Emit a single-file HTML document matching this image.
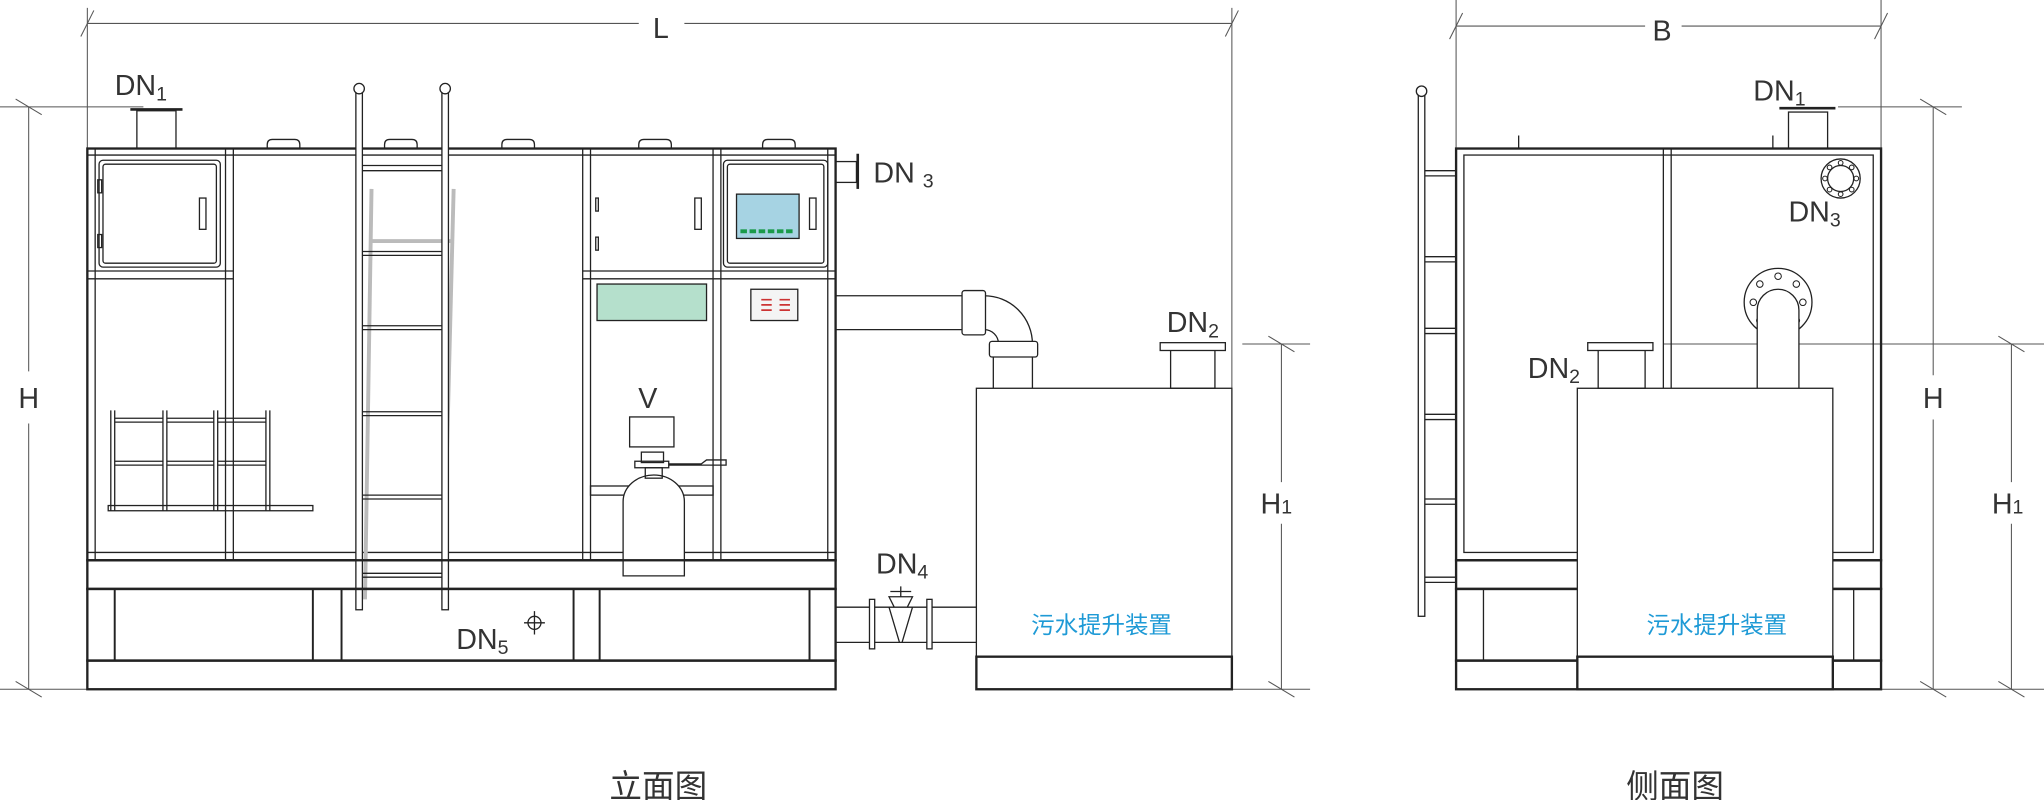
<!DOCTYPE html>
<html><head><meta charset="utf-8"><style>
html,body{margin:0;padding:0;background:#fff;}
svg{display:block;}
text{font-family:"Liberation Sans","Noto Sans CJK SC",sans-serif;fill:#333;}
</style></head><body>
<svg width="2044" height="800" viewBox="0 0 1568 614" preserveAspectRatio="none" xmlns="http://www.w3.org/2000/svg">
<g fill="none" stroke="#222" stroke-width="1">
<g stroke="#555" stroke-width="0.8">
<line x1="67" y1="18" x2="490" y2="18"/><line x1="525" y1="18" x2="945" y2="18"/>
<line x1="67" y1="6" x2="67" y2="114"/><line x1="945" y1="6" x2="945" y2="300"/>
<line x1="62" y1="28" x2="72" y2="8"/><line x1="940" y1="28" x2="950" y2="8"/>
<line x1="0" y1="82" x2="110" y2="82"/><line x1="0" y1="529" x2="67" y2="529"/>
<line x1="22" y1="82" x2="22" y2="285"/><line x1="22" y1="325" x2="22" y2="529"/>
<line x1="12" y1="76" x2="32" y2="88"/><line x1="12" y1="523" x2="32" y2="535"/>
<line x1="953" y1="264" x2="1005" y2="264"/><line x1="945" y1="529" x2="1005" y2="529"/>
<line x1="983" y1="264" x2="983" y2="370"/><line x1="983" y1="402" x2="983" y2="529"/>
<line x1="973" y1="258" x2="993" y2="270"/><line x1="973" y1="523" x2="993" y2="535"/>
<line x1="1117" y1="20" x2="1262" y2="20"/><line x1="1290" y1="20" x2="1443" y2="20"/>
<line x1="1117" y1="0" x2="1117" y2="114"/><line x1="1443" y1="0" x2="1443" y2="114"/>
<line x1="1112" y1="30" x2="1122" y2="10"/><line x1="1438" y1="30" x2="1448" y2="10"/>
<line x1="1410" y1="82" x2="1505" y2="82"/><line x1="1443" y1="529" x2="1568" y2="529"/>
<line x1="1483" y1="82" x2="1483" y2="288"/><line x1="1483" y1="322" x2="1483" y2="529"/>
<line x1="1473" y1="76" x2="1493" y2="88"/><line x1="1473" y1="523" x2="1493" y2="535"/>
<line x1="1276" y1="264" x2="1568" y2="264"/>
<line x1="1543" y1="264" x2="1543" y2="370"/><line x1="1543" y1="402" x2="1543" y2="529"/>
<line x1="1533" y1="258" x2="1553" y2="270"/><line x1="1533" y1="523" x2="1553" y2="535"/>
</g>
<rect x="105" y="85" width="30" height="29"/><line x1="100" y1="84" x2="140" y2="84" stroke-width="2"/>
<path d="M205 114v-3q0-4 4-4h17q4 0 4 4v3M295 114v-3q0-4 4-4h17q4 0 4 4v3M385 114v-3q0-4 4-4h17q4 0 4 4v3M490 114v-3q0-4 4-4h17q4 0 4 4v3M585 114v-3q0-4 4-4h17q4 0 4 4v3"/>
<rect x="67" y="114" width="574" height="316" stroke-width="1.8"/>
<line x1="67" y1="119" x2="641" y2="119"/>
<line x1="73" y1="114" x2="73" y2="430"/><line x1="635" y1="114" x2="635" y2="430"/>
<line x1="173" y1="114" x2="173" y2="430"/><line x1="179" y1="114" x2="179" y2="430"/>
<line x1="447" y1="114" x2="447" y2="430"/><line x1="453" y1="114" x2="453" y2="430"/>
<line x1="547" y1="114" x2="547" y2="430"/><line x1="553" y1="114" x2="553" y2="430"/>
<path d="M67 208H179M67 214H179M447 208H641M447 214H641M67 424H641"/>
<rect x="76" y="123" width="93" height="82" rx="3"/><rect x="79" y="126" width="87" height="76" rx="2"/>
<rect x="75" y="138" width="3" height="10"/><rect x="75" y="180" width="3" height="10"/>
<rect x="153" y="152" width="5" height="24"/>
<rect x="457" y="152" width="2" height="10"/><rect x="457" y="182" width="2" height="10"/>
<rect x="533" y="152" width="5" height="24"/>
<rect x="555" y="123" width="80" height="82" rx="3"/><rect x="558" y="126" width="74" height="76" rx="2"/>
<rect x="621" y="152" width="5" height="24"/>
<rect x="565" y="149" width="48" height="34" fill="#a6d3e3"/>
<g fill="#1a9a4a" stroke="none"><rect x="568" y="176" width="5" height="3"/><rect x="575" y="176" width="5" height="3"/><rect x="582" y="176" width="5" height="3"/><rect x="589" y="176" width="5" height="3"/><rect x="596" y="176" width="5" height="3"/><rect x="603" y="176" width="5" height="3"/></g>
<rect x="458" y="218" width="84" height="28" fill="#b5e0cc"/>
<rect x="576" y="222" width="36" height="24" fill="#f4f4f4"/>
<g stroke="#c33" stroke-width="1.3"><path d="M584 230h8M584 234h8M584 238h8M598 230h8M598 234h8M598 238h8"/></g>
<g stroke="#bbb" stroke-width="3"><line x1="285" y1="145" x2="280" y2="460"/><line x1="348" y1="145" x2="340" y2="460"/><line x1="285" y1="185" x2="348" y2="185"/></g>
<rect x="273" y="68" width="5" height="400" fill="#fff"/><rect x="339" y="68" width="5" height="400" fill="#fff"/>
<circle cx="275.5" cy="68" r="4" fill="#fff"/><circle cx="341.5" cy="68" r="4" fill="#fff"/>
<path d="M278 127h61M278 131h61M278 193h61M278 196h61M278 250h61M278 253h61M278 316h61M278 319h61M278 380h61M278 383h61M278 440h61M278 443h61"/>
<path d="M85 315v77M88 315v77M125 315v77M128 315v77M164 315v77M167 315v77M204 315v77M207 315v77"/>
<path d="M88 321h37M88 324h37M128 321h36M128 324h36M167 321h37M167 324h37M88 354h37M88 357h37M128 354h36M128 357h36M167 354h37M167 357h37"/>
<rect x="83" y="388" width="157" height="4"/>
<rect x="483" y="320" width="34" height="23"/>
<rect x="492" y="347" width="17" height="8"/>
<rect x="487" y="354" width="26" height="5"/><path d="M513 356h25l4-3h15v4h-44"/>
<rect x="453" y="373" width="94" height="7"/>
<path d="M478 442V385a23 20 0 0 1 47 0V442Z" fill="#fff"/>
<rect x="495" y="359" width="13" height="8"/>
<rect x="67" y="430" width="574" height="22" stroke-width="1.8"/>
<rect x="67" y="452" width="574" height="55" stroke-width="1.8"/>
<rect x="67" y="507" width="574" height="22" stroke-width="1.8"/>
<path d="M88 452v55M240 452v55M262 452v55M440 452v55M460 452v55M621 452v55" stroke-width="1.5"/>
<circle cx="410" cy="478" r="5"/><path d="M402 478h16M410 469v18"/>
<rect x="641" y="124" width="16" height="16"/><line x1="658" y1="118" x2="658" y2="145" stroke-width="2"/>
<path d="M641 227H740M641 253H740"/>
<path d="M740 227H755A37 37 0 0 1 792 264M740 253H755A11 11 0 0 1 766 264"/>
<rect x="738" y="223" width="18" height="34" rx="2" fill="#fff"/>
<rect x="759" y="262" width="37" height="12" rx="2" fill="#fff"/>
<path d="M762 274V298M792 274V298"/>
<path d="M641 466h26M641 493h26M715 466h34M715 493h34"/>
<rect x="667" y="460" width="4" height="38" fill="#fff"/><rect x="711" y="460" width="4" height="38" fill="#fff"/>
<path d="M671 466h40M671 493h40M682 466l8 27h2l8-27" />
<path d="M686 466l-4-8h18l-4 8M691 458v-8M683 454h16"/>
<rect x="749" y="298" width="196" height="206" fill="#fff"/>
<rect x="749" y="504" width="196" height="25" stroke-width="1.8"/>
<rect x="898" y="268" width="34" height="30"/><rect x="890" y="263" width="50" height="6" fill="#fff"/>
<rect x="1088" y="70" width="5" height="403" fill="#fff"/><circle cx="1090.5" cy="70" r="4" fill="#fff"/>
<path d="M1093 131h24M1093 135h24M1093 197h24M1093 201h24M1093 252h24M1093 256h24M1093 318h24M1093 322h24M1093 383h24M1093 387h24M1093 443h24M1093 447h24"/>
<rect x="1117" y="114" width="326" height="316" stroke-width="1.8"/>
<rect x="1123" y="119" width="314" height="305"/>
<path d="M1276 114v316M1282 114v316"/>
<path d="M1165 114v-10M1360 114v-10"/>
<rect x="1372" y="86" width="30" height="28"/><line x1="1365" y1="83" x2="1408" y2="83" stroke-width="2"/>
<circle cx="1412" cy="137" r="15"/><circle cx="1412" cy="137" r="10"/>
<g stroke-width="0.8"><circle cx="1412" cy="125" r="1.8"/><circle cx="1412" cy="149" r="1.8"/><circle cx="1400" cy="137" r="1.8"/><circle cx="1424" cy="137" r="1.8"/><circle cx="1403.5" cy="128.5" r="1.8"/><circle cx="1420.5" cy="128.5" r="1.8"/><circle cx="1403.5" cy="145.5" r="1.8"/><circle cx="1420.5" cy="145.5" r="1.8"/></g>
<circle cx="1364" cy="232" r="26"/>
<g stroke-width="0.8"><circle cx="1364" cy="212" r="2.5"/><circle cx="1350" cy="218" r="2.5"/><circle cx="1378" cy="218" r="2.5"/><circle cx="1345" cy="232" r="2.5"/><circle cx="1383" cy="232" r="2.5"/><circle cx="1350" cy="246" r="2.5"/><circle cx="1378" cy="246" r="2.5"/></g>
<path d="M1348 298V238A16 16 0 0 1 1380 238V298" fill="#fff"/>
<rect x="1117" y="430" width="326" height="22" stroke-width="1.8"/>
<rect x="1117" y="452" width="326" height="55" stroke-width="1.8"/>
<rect x="1117" y="507" width="326" height="22" stroke-width="1.8"/>
<path d="M1138 452v55M1422 452v55"/>
<rect x="1210" y="298" width="196" height="206" fill="#fff"/>
<rect x="1210" y="504" width="196" height="25" stroke-width="1.8" fill="#fff"/>
<rect x="1226" y="268" width="36" height="30"/><rect x="1218" y="263" width="50" height="6" fill="#fff"/>
</g>
<g font-size="22">
<text x="507" y="29" text-anchor="middle">L</text>
<text x="22" y="313" text-anchor="middle">H</text>
<text x="88" y="73">DN<tspan font-size="15" dy="4">1</tspan></text>
<text x="670" y="140">DN <tspan font-size="15" dy="4">3</tspan></text>
<text x="497" y="313" text-anchor="middle">V</text>
<text x="672" y="440">DN<tspan font-size="15" dy="4">4</tspan></text>
<text x="350" y="498">DN<tspan font-size="15" dy="4">5</tspan></text>
<text x="895" y="255">DN<tspan font-size="15" dy="4">2</tspan></text>
<text x="967" y="394">H<tspan font-size="15">1</tspan></text>
<text x="1275" y="31" text-anchor="middle">B</text>
<text x="1345" y="77">DN<tspan font-size="15" dy="4">1</tspan></text>
<text x="1372" y="170">DN<tspan font-size="15" dy="4">3</tspan></text>
<text x="1172" y="290">DN<tspan font-size="15" dy="4">2</tspan></text>
<text x="1483" y="313" text-anchor="middle">H</text>
<text x="1528" y="394">H<tspan font-size="15">1</tspan></text>
</g>
<g font-size="18" text-anchor="middle"><text x="845" y="486" style="fill:#1e9ad6">污水提升装置</text><text x="1317" y="486" style="fill:#1e9ad6">污水提升装置</text></g>
<g font-size="25" text-anchor="middle"><text x="505" y="612">立面图</text><text x="1285" y="612">侧面图</text></g>
</svg>
</body></html>
